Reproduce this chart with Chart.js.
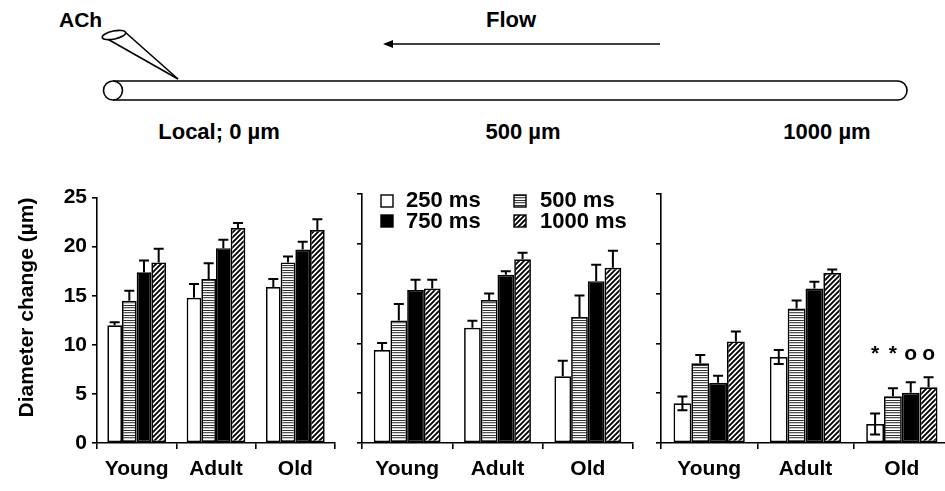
<!DOCTYPE html>
<html><head><meta charset="utf-8">
<script src="https://cdn.jsdelivr.net/npm/chart.js@4"></script>
<style>
html,body{margin:0;padding:0;width:945px;height:491px;overflow:hidden;background:#fff;}
canvas{position:absolute;}
svg{position:absolute;left:0;top:0;}
</style></head><body>
<svg width="945" height="180" xmlns="http://www.w3.org/2000/svg">
  <g font-family="Arial, 'Liberation Sans', sans-serif" font-weight="bold" font-size="21" fill="#000">
    <text x="59" y="27">ACh</text>
    <text x="511" y="27" font-size="22" text-anchor="middle">Flow</text>
    <text x="219" y="139" font-size="22" text-anchor="middle">Local; 0 µm</text>
    <text x="523" y="139" font-size="22" text-anchor="middle">500 µm</text>
    <text x="827" y="139" font-size="22" text-anchor="middle">1000 µm</text>
  </g>
  <g stroke="#000" stroke-width="1.6" fill="none">
    <line x1="660" y1="44" x2="390" y2="44"/>
    <path d="M113,81 L898,81 A9,9.5 0 0 1 898,100 L113,100" />
    <ellipse cx="113" cy="90.5" rx="9.5" ry="9.5" fill="#fff"/>
    <line x1="104" y1="37" x2="178" y2="79"/>
    <line x1="125" y1="32" x2="178" y2="79"/>
    <ellipse cx="114" cy="35" rx="12" ry="4" transform="rotate(-12 114 35)" fill="#fff"/>
  </g>
  <path d="M383,44 L393,40 L393,48 Z" fill="#000"/>
</svg>
<canvas id="c1" width="340" height="311" style="left:0;top:180px"></canvas>
<canvas id="c2" width="300" height="311" style="left:340px;top:180px"></canvas>
<canvas id="c3" width="320" height="311" style="left:640px;top:180px"></canvas>
<script>
// ---------- data ----------
const categories = ['Young', 'Adult', 'Old'];
const seriesNames = ['250 ms', '500 ms', '750 ms', '1000 ms'];
const yTickValues = [0, 5, 10, 15, 20, 25];
const yTitle = 'Diameter change (µm)';

// Local; 0 µm
const local250 = [12.0, 14.8, 15.9];
const local250Err = [0.3, 1.4, 0.8];
const local500 = [14.5, 16.7, 18.4];
const local500Err = [1.0, 1.6, 0.6];
const local750 = [17.4, 19.85, 19.7];
const local750Err = [1.2, 0.85, 0.8];
const local1000 = [18.4, 21.9, 21.7];
const local1000Err = [1.4, 0.5, 1.1];

// 500 µm
const up500_250 = [9.33, 11.57, 6.7];
const up500_250Err = [0.7, 0.7, 1.55];
const up500_500 = [12.3, 14.35, 12.65];
const up500_500Err = [1.65, 0.65, 2.15];
const up500_750 = [15.35, 16.9, 16.25];
const up500_750Err = [1.05, 0.35, 1.65];
const up500_1000 = [15.5, 18.45, 17.6];
const up500_1000Err = [0.9, 0.65, 1.7];

// 1000 µm
const up1000_250 = [3.98, 8.63, 1.9];
const up1000_250Err = [0.7, 0.7, 1.05];
const up1000_500 = [8.0, 13.5, 4.7];
const up1000_500Err = [0.83, 0.8, 0.8];
const up1000_750 = [6.05, 15.5, 5.05];
const up1000_750Err = [0.7, 0.7, 1.05];
const up1000_1000 = [10.2, 17.07, 5.6];
const up1000_1000Err = [1.0, 0.35, 1.0];

// significance marks above "Old" at 1000 µm
const up1000Marks = ['*', '*', 'o', 'o'];
const up1000MarkLevel = 8.9;

// ---------- styling ----------
const FONT = "Arial, 'Liberation Sans', sans-serif";

function makeFills(ctx) {
  const s = document.createElement('canvas'); s.width = 4; s.height = 5;
  const g = s.getContext('2d');
  g.fillStyle = '#fff'; g.fillRect(0, 0, 4, 5);
  g.fillStyle = '#2e2e2e'; g.fillRect(0, 0, 4, 1);
  g.fillStyle = '#555555'; g.fillRect(0, 2, 4, 1);
  g.fillStyle = '#cfcfcf'; g.fillRect(0, 3, 4, 1);
  const stripes = ctx.createPattern(s, 'repeat');

  const h = document.createElement('canvas'); h.width = 5; h.height = 5;
  const k = h.getContext('2d');
  k.fillStyle = '#fff'; k.fillRect(0, 0, 5, 5);
  k.strokeStyle = '#000'; k.lineWidth = 1.9;
  k.beginPath();
  k.moveTo(-1, 6); k.lineTo(6, -1);
  k.moveTo(-1, 1); k.lineTo(1, -1);
  k.moveTo(4, 6); k.lineTo(6, 4);
  k.stroke();
  const hatch = ctx.createPattern(h, 'repeat');
  return ['#ffffff', stripes, '#000000', hatch];
}

const errPlugin = {
  id: 'errbars',
  afterDatasetsDraw(chart) {
    const ctx = chart.ctx, ys = chart.scales.y;
    ctx.save();
    ctx.strokeStyle = '#000'; ctx.lineWidth = 2;
    chart.data.datasets.forEach((ds, i) => {
      const meta = chart.getDatasetMeta(i);
      meta.data.forEach((bar, j) => {
        const v = ds.data[j], e = ds.errs[j];
        const top = ys.getPixelForValue(v + e);
        const bot = ds.both ? ys.getPixelForValue(v - e) : bar.y;
        const cw = 5;
        ctx.beginPath();
        ctx.moveTo(bar.x, bot); ctx.lineTo(bar.x, top);
        ctx.moveTo(bar.x - cw, top); ctx.lineTo(bar.x + cw, top);
        if (ds.both) { ctx.moveTo(bar.x - cw, bot); ctx.lineTo(bar.x + cw, bot); }
        ctx.stroke();
        if (ds.marks && ds.marks[j]) {
          ctx.fillStyle = '#000';
          ctx.font = 'bold 21px ' + FONT;
          ctx.textAlign = 'center'; ctx.textBaseline = 'middle';
          ctx.fillText(ds.marks[j], bar.x, ys.getPixelForValue(ds.markLevel));
        }
      });
    });
    ctx.restore();
  }
};

const legendPlugin = {
  id: 'boxlegend',
  afterDraw(chart, args, opts) {
    if (!opts.show) return;
    const ctx = chart.ctx;
    const fills = chart.data.datasets.map(d => d.backgroundColor);
    const items = [
      {i: 0, bx: 41, by: 15, tx: 66, ty: 21},
      {i: 1, bx: 174, by: 15, tx: 200, ty: 21},
      {i: 2, bx: 41, by: 35, tx: 66, ty: 42},
      {i: 3, bx: 174, by: 35, tx: 200, ty: 42}
    ];
    ctx.save();
    items.forEach(it => {
      ctx.fillStyle = fills[it.i];
      ctx.fillRect(it.bx, it.by, 12, 12);
      ctx.strokeStyle = '#000'; ctx.lineWidth = 1.4;
      ctx.strokeRect(it.bx, it.by, 12, 12);
      ctx.fillStyle = '#000';
      ctx.font = 'bold 22px ' + FONT;
      ctx.textAlign = 'left'; ctx.textBaseline = 'middle';
      ctx.fillText(seriesNames[it.i], it.tx, it.ty);
    });
    ctx.restore();
  }
};

function makePanel(id, vals, errs, cfg) {
  const canvas = document.getElementById(id);
  const ctx = canvas.getContext('2d');
  const fills = makeFills(ctx);
  const datasets = vals.map((v, i) => ({
    label: seriesNames[i],
    data: v,
    errs: errs[i],
    both: cfg.both ? cfg.both[i] : false,
    marks: cfg.marks ? cfg.marks[i] : null,
    markLevel: cfg.markLevel,
    backgroundColor: fills[i],
    borderColor: '#000',
    borderWidth: 1.7,
    borderSkipped: false,
    categoryPercentage: 0.74,
    barPercentage: 1.0
  }));
  return new Chart(ctx, {
    type: 'bar',
    data: {labels: categories, datasets},
    plugins: [errPlugin, legendPlugin],
    options: {
      responsive: false,
      animation: false,
      devicePixelRatio: 1,
      layout: {padding: {top: 14, right: cfg.padRight, left: 0, bottom: 0}},
      plugins: {
        legend: {display: false},
        tooltip: {enabled: false},
        boxlegend: {show: !!cfg.legend}
      },
      scales: {
        x: {
          type: 'category',
          offset: true,
          grid: {display: true, offset: true, drawOnChartArea: false, drawTicks: true, tickLength: 6, color: '#000', lineWidth: 1.6},
          border: {display: true, color: '#000', width: 1.6},
          ticks: {color: '#000', font: {family: FONT, size: 21, weight: 'bold'}, padding: 8, maxRotation: 0},
          afterFit(s) { s.height = 48; }
        },
        y: {
          min: 0, max: 25,
          afterBuildTicks(s) { s.ticks = yTickValues.map(v => ({value: v})); },
          grid: {display: true, drawOnChartArea: false, drawTicks: true, tickLength: 5, color: '#000', lineWidth: 1.6},
          border: {display: true, color: '#000', width: 1.6},
          ticks: {display: cfg.yLabels, color: '#000', font: {family: FONT, size: 21, weight: 'bold'}, padding: 5},
          title: {display: cfg.yLabels, text: yTitle, align: 'end', color: '#000', font: {family: FONT, size: 21, weight: 'bold'}, padding: {top: 15, bottom: 0}},
          afterFit(s) { s.width = cfg.yWidth; }
        }
      }
    }
  });
}

makePanel('c1',
  [local250, local500, local750, local1000],
  [local250Err, local500Err, local750Err, local1000Err],
  {yLabels: true, yWidth: 97, padRight: 5});

makePanel('c2',
  [up500_250, up500_500, up500_750, up500_1000],
  [up500_250Err, up500_500Err, up500_750Err, up500_1000Err],
  {yLabels: false, yWidth: 22, padRight: 7, legend: true});

makePanel('c3',
  [up1000_250, up1000_500, up1000_750, up1000_1000],
  [up1000_250Err, up1000_500Err, up1000_750Err, up1000_1000Err],
  {yLabels: false, yWidth: 21, padRight: 10, both: [true, false, false, false],
   marks: [[null, null, up1000Marks[0]], [null, null, up1000Marks[1]], [null, null, up1000Marks[2]], [null, null, up1000Marks[3]]],
   markLevel: up1000MarkLevel});
</script>
</body></html>
